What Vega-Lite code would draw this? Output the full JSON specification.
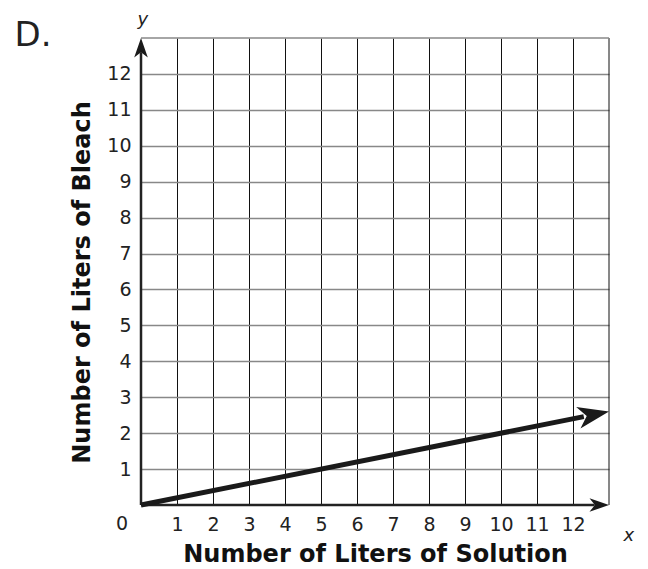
{
  "$schema": "https://vega.github.io/schema/vega-lite/v6.json",
  "width": 468,
  "height": 467,
  "autosize": "none",
  "padding": {"left": 141, "top": 38, "right": 39, "bottom": 64},
  "background": "white",
  "config": {"view": {"stroke": null}, "font": "DejaVu Sans"},
  "datasets": {
    "axes": [{"x": 0, "y": 0, "x2": 12.6, "y2": 0}, {"x": 0, "y": 0, "x2": 0, "y2": 12.6}],
    "vgrid": [{"v": 13}],
    "line": [{"x": 0, "y": 0}, {"x": 12.3, "y": 2.46}],
    "xhead": [{"x": 13, "y": 0}],
    "yhead": [{"x": 0, "y": 13}],
    "dhead": [{"x": 13, "y": 2.6}],
    "labels": [
      {"x": 0, "y": 0, "t": "0"}
    ],
    "notes": [
      {"x": -3.0, "y": 13.05, "t": "D."}
    ],
    "varlabels": [
      {"x": 13.55, "y": -0.85, "t": "x"},
      {"x": 0.05, "y": 13.5, "t": "y"}
    ]
  },
  "layer": [
    {
      "data": {"name": "axes"},
      "mark": {"type": "rule", "strokeWidth": 0, "opacity": 0},
      "encoding": {
        "x": {"field": "x", "type": "quantitative", "scale": {"domain": [0, 13], "nice": false},
          "axis": {"values": [1,2,3,4,5,6,7,8,9,10,11,12], "grid": true, "gridColor": "#111", "gridWidth": 1, "gridOpacity": 1,
            "domain": false, "ticks": false, "labelOverlap": false,
            "labelFontSize": 19, "labelColor": "#222", "labelPadding": 10, "labelFlush": false,
            "title": "Number of Liters of Solution", "titleFontSize": 24, "titleFontWeight": "bold", "titleColor": "#111", "titlePadding": 8}},
        "y": {"field": "y", "type": "quantitative", "scale": {"domain": [0, 13], "nice": false},
          "axis": {"values": [1,2,3,4,5,6,7,8,9,10,11,12], "grid": true, "gridColor": "#888", "gridWidth": 1.5, "gridOpacity": 1,
            "domain": false, "ticks": false, "labelOverlap": false,
            "labelFontSize": 19, "labelColor": "#222", "labelPadding": 10, "labelFlush": false,
            "title": "Number of Liters of Bleach", "titleFontSize": 24, "titleFontWeight": "bold", "titleColor": "#111", "titlePadding": 12, "titleY": 244}},
        "x2": {"field": "x2"},
        "y2": {"field": "y2"}
      }
    },
    {
      "data": {"name": "vgrid"},
      "mark": {"type": "rule", "color": "#111", "strokeWidth": 1},
      "encoding": {"x": {"field": "v", "type": "quantitative"}}
    },
    {
      "data": {"name": "vgrid"},
      "mark": {"type": "rule", "color": "#888", "strokeWidth": 1.5},
      "encoding": {"y": {"field": "v", "type": "quantitative"}}
    },
    {
      "data": {"name": "axes"},
      "mark": {"type": "rule", "color": "#222", "strokeWidth": 2.5},
      "encoding": {
        "x": {"field": "x", "type": "quantitative"},
        "y": {"field": "y", "type": "quantitative"},
        "x2": {"field": "x2"},
        "y2": {"field": "y2"}
      }
    },
    {
      "data": {"name": "line"},
      "mark": {"type": "line", "color": "#1a1a1a", "strokeWidth": 5},
      "encoding": {
        "x": {"field": "x", "type": "quantitative"},
        "y": {"field": "y", "type": "quantitative"}
      }
    },
    {
      "data": {"name": "xhead"},
      "mark": {"type": "point", "shape": "M 0 0 L -2 -0.7 L -1.45 0 L -2 0.7 Z", "filled": true, "color": "#1a1a1a", "opacity": 1, "size": 380, "angle": 0},
      "encoding": {
        "x": {"field": "x", "type": "quantitative"},
        "y": {"field": "y", "type": "quantitative"}
      }
    },
    {
      "data": {"name": "yhead"},
      "mark": {"type": "point", "shape": "M 0 0 L -2 -0.7 L -1.45 0 L -2 0.7 Z", "filled": true, "color": "#1a1a1a", "opacity": 1, "size": 380, "angle": -90},
      "encoding": {
        "x": {"field": "x", "type": "quantitative"},
        "y": {"field": "y", "type": "quantitative"}
      }
    },
    {
      "data": {"name": "dhead"},
      "mark": {"type": "point", "shape": "M 0 0 L -2 -0.7 L -1.45 0 L -2 0.7 Z", "filled": true, "color": "#1a1a1a", "opacity": 1, "size": 980, "angle": -11.31},
      "encoding": {
        "x": {"field": "x", "type": "quantitative"},
        "y": {"field": "y", "type": "quantitative"}
      }
    },
    {
      "data": {"name": "labels"},
      "mark": {"type": "text", "fontSize": 19, "color": "#222", "dx": -19, "dy": 19, "baseline": "middle"},
      "encoding": {
        "x": {"field": "x", "type": "quantitative"},
        "y": {"field": "y", "type": "quantitative"},
        "text": {"field": "t"}
      }
    },
    {
      "data": {"name": "notes"},
      "mark": {"type": "text", "fontSize": 34, "color": "#222", "baseline": "middle", "align": "center"},
      "encoding": {
        "x": {"field": "x", "type": "quantitative"},
        "y": {"field": "y", "type": "quantitative"},
        "text": {"field": "t"}
      }
    },
    {
      "data": {"name": "varlabels"},
      "mark": {"type": "text", "fontSize": 18, "fontStyle": "italic", "color": "#222", "baseline": "middle", "align": "center"},
      "encoding": {
        "x": {"field": "x", "type": "quantitative"},
        "y": {"field": "y", "type": "quantitative"},
        "text": {"field": "t"}
      }
    }
  ]
}
